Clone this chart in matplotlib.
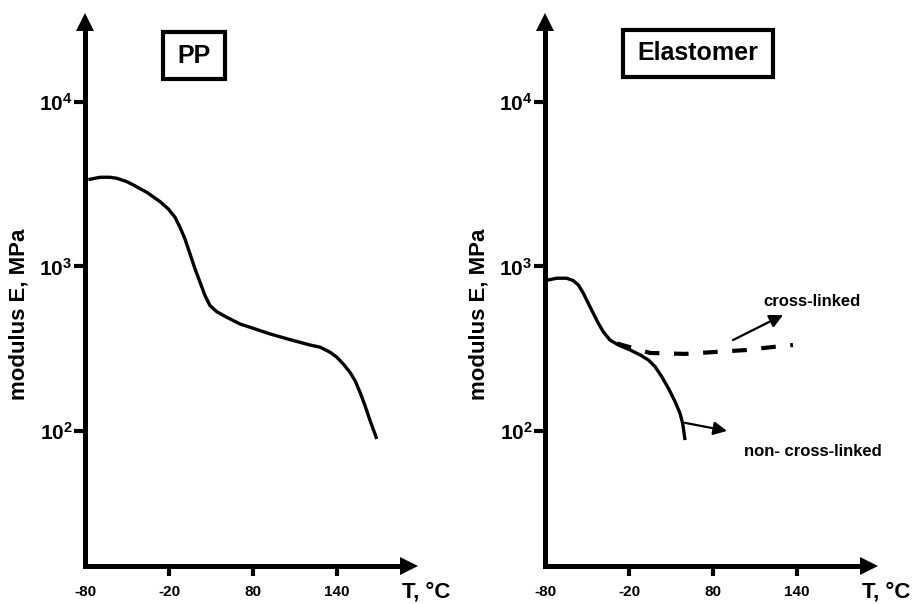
import numpy as np
import matplotlib
matplotlib.use("Agg")
import matplotlib.pyplot as plt
from matplotlib.patches import Rectangle

plt.rcParams["font.family"] = ["Liberation Sans", "DejaVu Sans"]
plt.rcParams["font.weight"] = "bold"
plt.rcParams["mathtext.fontset"] = "custom"
plt.rcParams["mathtext.rm"] = "Liberation Sans:bold"
plt.rcParams["mathtext.bf"] = "Liberation Sans:bold"

# ---- data -------------------------------------------------------------
tick_temps = [-80, -20, 80, 140]
tick_labels = ["-80", "-20", "80", "140"]
modulus_ticks = [1e2, 1e3, 1e4]
modulus_labels = [r"$\mathbf{10^{2}}$", r"$\mathbf{10^{3}}$", r"$\mathbf{10^{4}}$"]

pp_T = [-77.6, -69.3, -62.1, -57.4, -50.2, -45.5, -35.9, -26.4, -20.5, -12.9,
        -6.9, -1.0, 5.0, 11.0, 16.9, 22.9, 28.8, 36.8, 48.7, 64.5, 76.4,
        92.1, 106.4, 120.7, 127.9, 135.0, 139.8, 144.5, 149.3, 152.9, 156.4,
        160.0, 163.6, 168.4]
pp_E = [3373, 3484, 3484, 3437, 3278, 3129, 2825, 2477, 2236, 1991,
        1730, 1469, 1191, 966, 802, 664, 578, 531, 491, 447, 427,
        389, 359, 333, 323, 301, 281, 255, 227, 202, 172,
        142.5, 115.5, 89.4]

el_T = [-80, -71.6, -64.5, -59.8, -56.2, -52.6, -49.1, -45.5, -41.9, -38.4,
        -33.6, -27.6, -18.8, -6.9, 3.0, 11.0, 18.9, 26.8, 34.8, 40.7, 43.9, 46.7]
el_E = [820, 848, 848, 820, 772, 687, 597, 519, 451, 401,
        357, 333, 311, 290, 270, 246, 214, 182, 151, 128, 111, 88]

xl_T = [-28.6, 5.0, 46.7, 81.4, 102.9, 122.9, 137.1]
xl_E = [340, 298, 294, 302, 310, 324, 333]

# ---- temperature axis: equal spacing between labelled temperatures ----
_knots_T = [-260, -80, -20, 80, 140, 320]
_knots_p = [-3, 0, 1, 2, 3, 6]


def t_forward(t):
    return np.interp(t, _knots_T, _knots_p)


def t_inverse(p):
    return np.interp(p, _knots_p, _knots_T)


W, H = 917, 604
fig = plt.figure(figsize=(W / 100, H / 100), dpi=100)


def make_axes(left_px):
    x0, x1 = left_px, left_px + 324
    y_bottom, y_top = 566, 22
    ax = fig.add_axes([x0 / W, 1 - y_bottom / H, (x1 - x0) / W, (y_bottom - y_top) / H])
    ax.set_xscale("function", functions=(t_forward, t_inverse))
    ax.set_yscale("log")
    ax.set_xlim(-80, 191.4)
    ax.set_ylim(10 ** 1.179, 10 ** 4.486)
    for s in ("top", "right"):
        ax.spines[s].set_visible(False)
    for s in ("left", "bottom"):
        ax.spines[s].set_linewidth(3.6)
        ax.spines[s].set_capstyle("projecting")
    ax.set_xticks(tick_temps, tick_labels)
    ax.set_yticks(modulus_ticks, modulus_labels)
    ax.yaxis.set_minor_locator(matplotlib.ticker.NullLocator())
    ax.tick_params(axis="x", length=7, width=3, labelsize=11, pad=7)
    ax.tick_params(axis="y", length=8, width=3, labelsize=15, pad=1)
    ax.xaxis.get_major_ticks()[0].tick1line.set_visible(False)
    # arrowheads at the ends of both axes
    ax.plot(1, 0, ">", color="k", ms=13, mew=0, transform=ax.transAxes, clip_on=False)
    ax.plot(0, 1, "^", color="k", ms=13, mew=0, transform=ax.transAxes, clip_on=False)
    ax.set_ylabel("modulus E, MPa", fontsize=16, fontweight="bold", va="center")
    ax.yaxis.set_label_coords(-0.205, 0.463)
    fig.text((x1 + 17) / W, 1 - 592 / H, "T, °C", fontsize=16, fontweight="bold",
             ha="center", va="center")
    return ax


def title_box(ax, text, x, y, w, h):
    ax.add_patch(Rectangle((x, y), w, h, transform=ax.transAxes, fill=False,
                           ec="k", lw=3, clip_on=False))
    ax.text(x + w / 2, y + h / 2, text, transform=ax.transAxes, ha="center",
            va="center", fontsize=18, fontweight="bold")


curve = dict(color="k", lw=2.4, solid_capstyle="butt", solid_joinstyle="round")

# ---- PP ----------------------------------------------------------------
ax1 = make_axes(85)
ax1.plot(pp_T, pp_E, **curve)
title_box(ax1, "PP", 0.241, 0.895, 0.191, 0.0864)

# ---- Elastomer ---------------------------------------------------------
ax2 = make_axes(545)
ax2.plot(el_T, el_E, **curve)
ax2.plot(xl_T, xl_E, color="k", lw=3, dashes=(3.5, 3.5), dash_joinstyle="round")
title_box(ax2, "Elastomer", 0.241, 0.899, 0.463, 0.0864)

arrow = dict(arrowstyle="-|>", lw=1.6, color="k", mutation_scale=20,
             shrinkA=0, shrinkB=0)
ax2.annotate("", xy=(130, 507), xytext=(94.3, 357), arrowprops=arrow)
ax2.annotate("", xy=(90, 100), xytext=(46.7, 112), arrowprops=arrow)
ax2.text(150.7, 616, "cross-linked", fontsize=12, fontweight="bold",
         ha="center", va="center")
ax2.text(151.4, 74.5, "non- cross-linked", fontsize=12, fontweight="bold",
         ha="center", va="center")

fig.savefig("out.png", dpi=100)
